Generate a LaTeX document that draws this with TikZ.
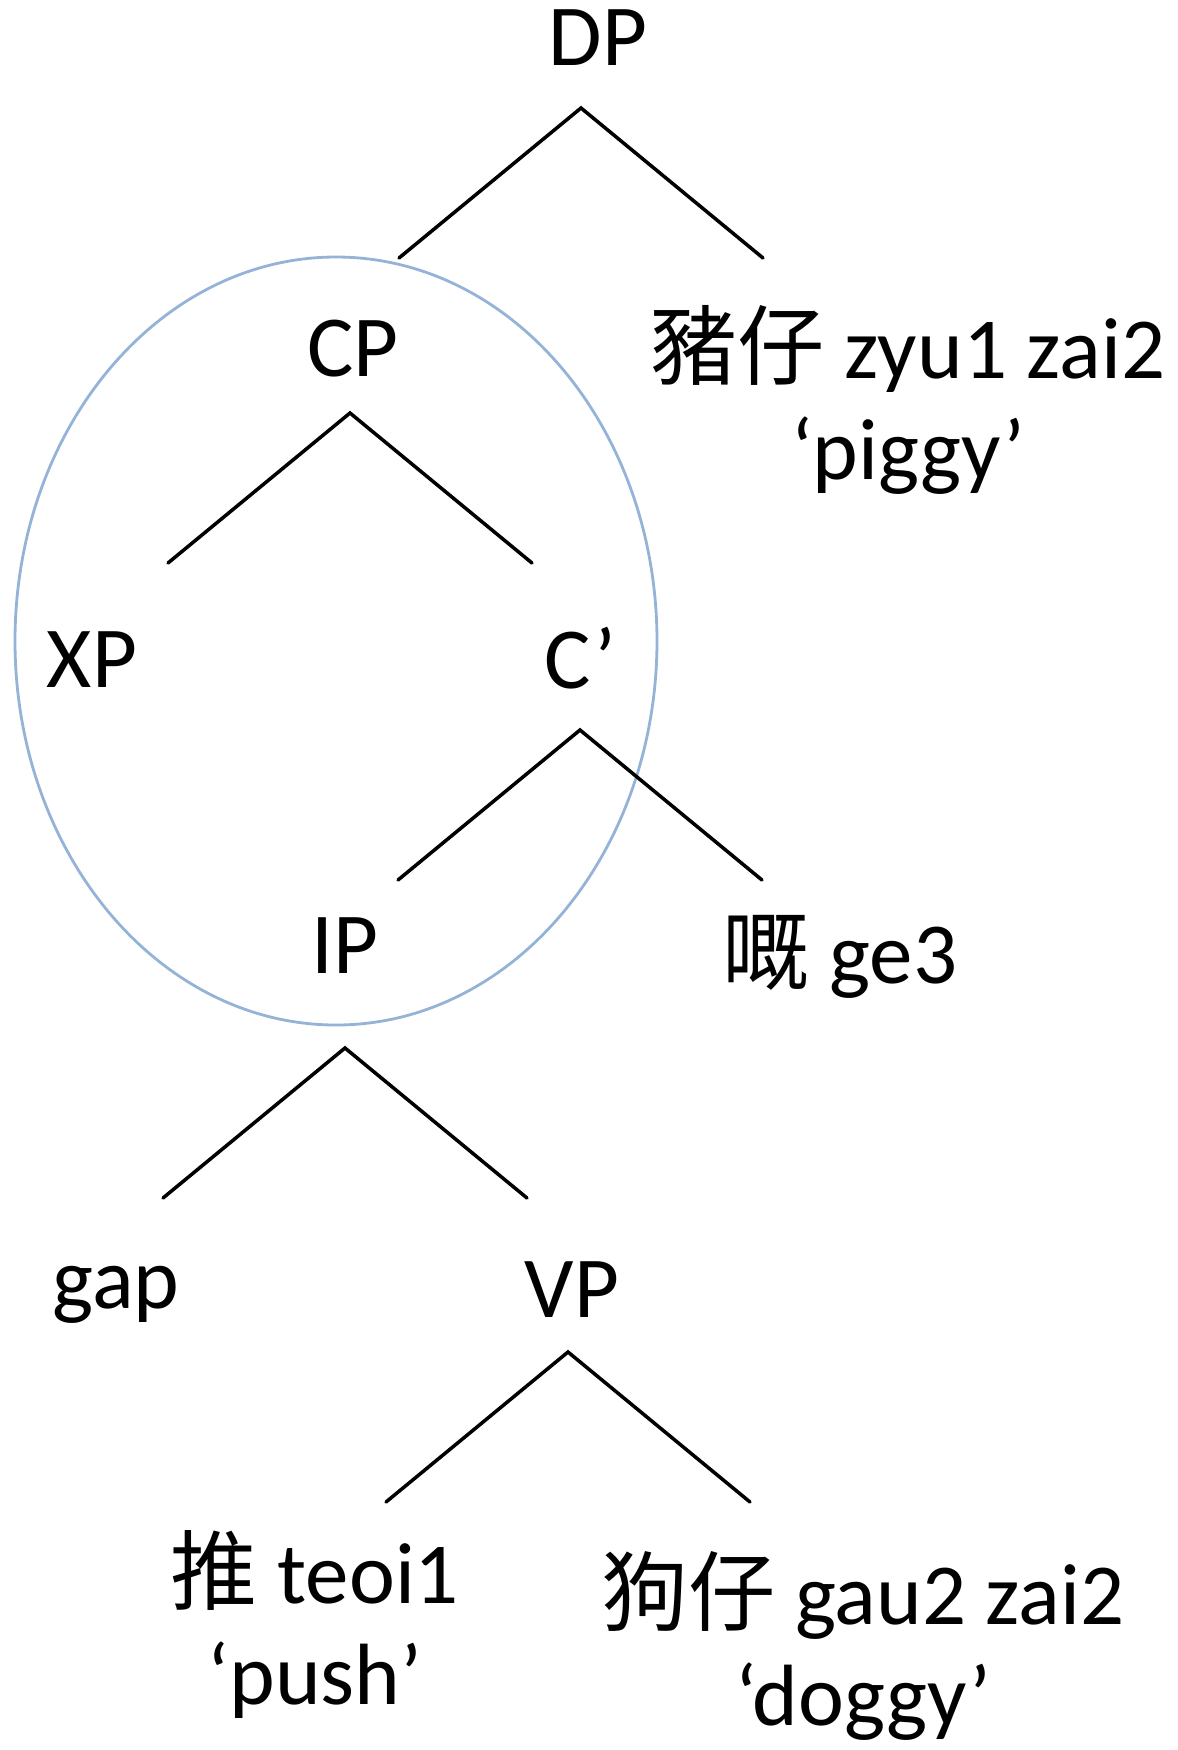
\documentclass[tikz,border=0pt]{standalone}
\usepackage{fontspec}
\setmainfont{Carlito}
\newfontfamily\cjk{Noto Sans CJK TC}
\definecolor{ringblue}{HTML}{95B3D7}

\begin{document}
\begin{tikzpicture}[
      word/.style = {anchor=base, inner sep=0pt, align=center,
        font=\fontsize{49.5}{57}\selectfont},
      edge/.style = {line width=2pt, line cap=round},
      ring/.style = {draw=ringblue, line width=1.6pt}
    ]
    \useasboundingbox (0,0) rectangle (23.56,-35);

    % the circled part
    \draw[ring] (6.72,-12.82) ellipse [x radius=6.42, y radius=7.68];

    % base of a two-line word is its last line
    \node[word] (DP)  at (11.96,-1.30)  {DP};
    \node[word] (CP)  at (7.06,-7.52)   {CP};
    \node[word] (N)   at (18.16,-9.58)  {{\cjk 豬仔} zyu1 zai2\\‘piggy’};
    \node[word] (XP)  at (1.84,-13.74)  {XP};
    \node[word] (Cb)  at (11.60,-13.76) {C’};
    \node[word] (IP)  at (6.90,-19.46)  {IP};
    \node[word] (C)   at (16.80,-19.66) {{\cjk 嘅} ge3};
    \node[word] (gap) at (2.32,-26.16)  {gap};
    \node[word] (VP)  at (11.44,-26.34) {VP};
    \node[word] (V)   at (6.30,-34.08)  {{\cjk 推} teoi1\\‘push’};
    \node[word] (O)   at (17.26,-34.50) {{\cjk 狗仔} gau2 zai2\\‘doggy’};

    % roofs under each branching node
    \foreach \n/\x/\y in {dp/11.62/2.16, cp/7.00/8.26, cb/11.60/14.60,
                          ip/6.90/20.96, vp/11.36/27.04}{
      \coordinate (\n-top)   at (\x,-\y);
      \coordinate (\n-left)  at (\x-3.64,-\y-3);
      \coordinate (\n-right) at (\x+3.64,-\y-3);
      \draw[edge] (\n-left) -- (\n-top) -- (\n-right);
    }
  \end{tikzpicture}
\end{document}
